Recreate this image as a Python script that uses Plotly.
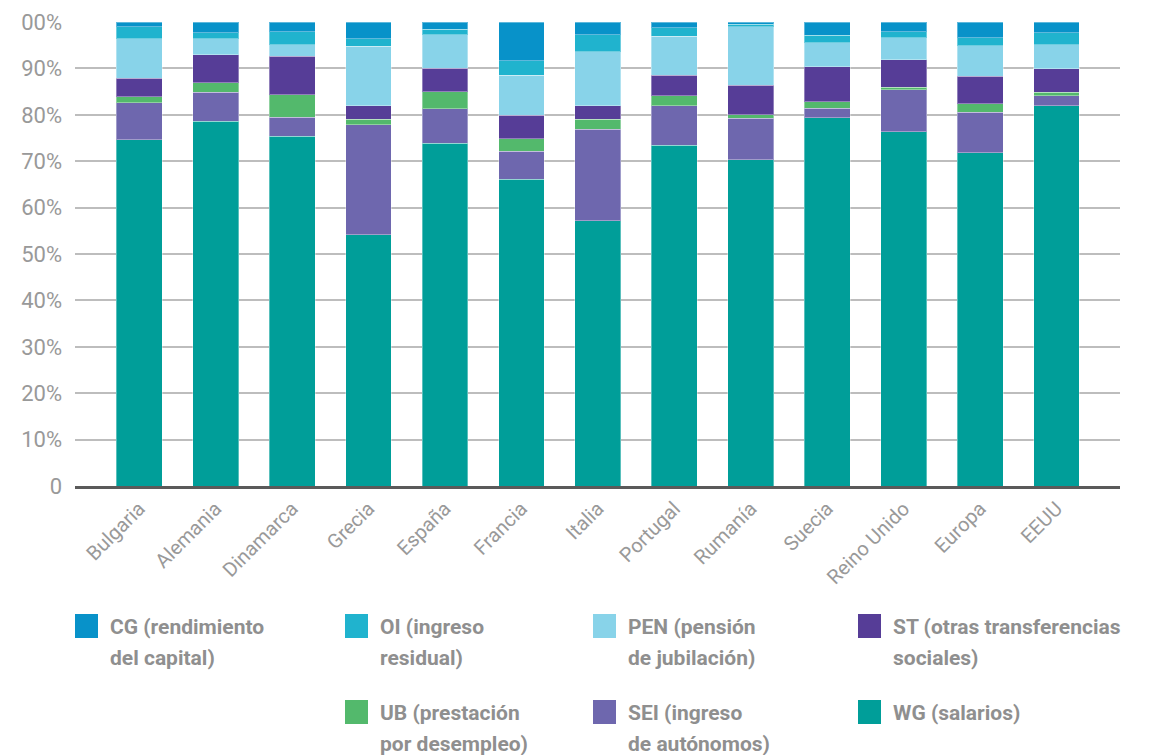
import plotly.graph_objects as go

categories = ["Bulgaria", "Alemania", "Dinamarca", "Grecia", "España", "Francia", "Italia",
              "Portugal", "Rumanía", "Suecia", "Reino Unido", "Europa", "EEUU"]

WG = [74.6, 78.6, 75.4, 54.2, 73.9, 66.1, 57.2, 73.4, 70.3, 79.4, 76.4, 71.8, 82.0]
SEI = [8.0, 6.3, 4.1, 23.7, 7.4, 6.0, 19.7, 8.5, 9.0, 2.0, 9.0, 8.8, 2.1]
UB = [1.3, 2.0, 4.8, 1.1, 3.7, 2.7, 2.1, 2.2, 0.7, 1.4, 0.5, 1.8, 0.8]
ST = [4.0, 6.0, 8.3, 2.9, 5.0, 5.1, 2.9, 4.4, 6.4, 7.6, 6.0, 5.9, 5.0]
PEN = [8.5, 3.5, 2.5, 12.9, 7.2, 8.6, 11.7, 8.4, 12.6, 5.1, 4.7, 6.6, 5.2]
OI = [2.6, 1.3, 2.8, 1.6, 1.2, 3.2, 3.6, 1.9, 0.5, 1.6, 1.3, 1.7, 2.6]
CG = [1.0, 2.3, 2.1, 3.6, 1.6, 8.3, 2.8, 1.2, 0.5, 2.9, 2.1, 3.4, 2.3]

series = [
    ("WG", WG, "#009E99", ["WG (salarios)"]),
    ("SEI", SEI, "#6E67AE", ["SEI (ingreso", "de autónomos)"]),
    ("UB", UB, "#53B96C", ["UB (prestación", "por desempleo)"]),
    ("ST", ST, "#563D97", ["ST (otras transferencias", "sociales)"]),
    ("PEN", PEN, "#88D3E9", ["PEN (pensión", "de jubilación)"]),
    ("OI", OI, "#20B3CE", ["OI (ingreso", "residual)"]),
    ("CG", CG, "#0892C9", ["CG (rendimiento", "del capital)"]),
]

y_tickvals = [0, 10, 20, 30, 40, 50, 60, 70, 80, 90, 100]
y_ticktext = ["0", "10%", "20%", "30%", "40%", "50%", "60%", "70%", "80%", "90%", "00%"]

fig = go.Figure()
for name, vals, color, _ in series:
    fig.add_trace(go.Bar(
        x=categories, y=vals, name=name,
        marker=dict(color=color, line=dict(color="rgba(255,255,255,0.35)", width=1)),
        showlegend=False,
    ))

W, H = 1163, 755
ml, mr, mt, mb = 75, 43, 22, 269
pw = W - ml - mr
ph = H - mt - mb


def px2x(px):
    return (px - ml) / pw


def py2y(py):
    return (H - mb - py) / ph


# legend layout (pixel positions of swatch left/top)
legend_pos = {
    "CG": (75, 614),
    "OI": (345, 614),
    "PEN": (593, 614),
    "ST": (858, 614),
    "UB": (345, 700),
    "SEI": (593, 700),
    "WG": (858, 700),
}

shapes = []
annotations = []
for name, vals, color, lines in series:
    sx, sy = legend_pos[name]
    shapes.append(dict(type="rect", xref="paper", yref="paper",
                       x0=px2x(sx), x1=px2x(sx + 23), y0=py2y(sy), y1=py2y(sy + 24),
                       fillcolor=color, line=dict(width=0)))
    for i, t in enumerate(lines):
        annotations.append(dict(
            xref="paper", yref="paper", x=px2x(sx + 33), y=py2y(sy + 13 + i * 31),
            xanchor="left", yanchor="middle", text="<b>" + t + "</b>", showarrow=False,
            font=dict(family="Roboto", size=21, color="#8f8f8f"),
        ))

fig.update_layout(
    width=W, height=H,
    margin=dict(l=ml, r=mr, t=mt, b=mb, autoexpand=False),
    barmode="stack", bargap=0.4,
    plot_bgcolor="white", paper_bgcolor="white",
    font=dict(family="Roboto", color="#999999"),
    shapes=shapes, annotations=annotations,
    xaxis=dict(
        range=[-0.84, 12.83], tickangle=-45, automargin=False,
        tickfont=dict(size=20, color="#999999"),
        showline=True, linecolor="#5a5a5a", linewidth=3,
        showgrid=False, ticks="",
    ),
    yaxis=dict(
        range=[0, 100], tickvals=y_tickvals, ticktext=y_ticktext, automargin=False,
        tickfont=dict(size=22, color="#999999"),
        showgrid=True, gridcolor="#bdbdbd", gridwidth=2,
        zeroline=False, showline=False, ticks="", ticklabelstandoff=12,
    ),
)

fig.write_html("out.html", config={"displayModeBar": False},
               post_script="document.body.style.margin='0px';")
